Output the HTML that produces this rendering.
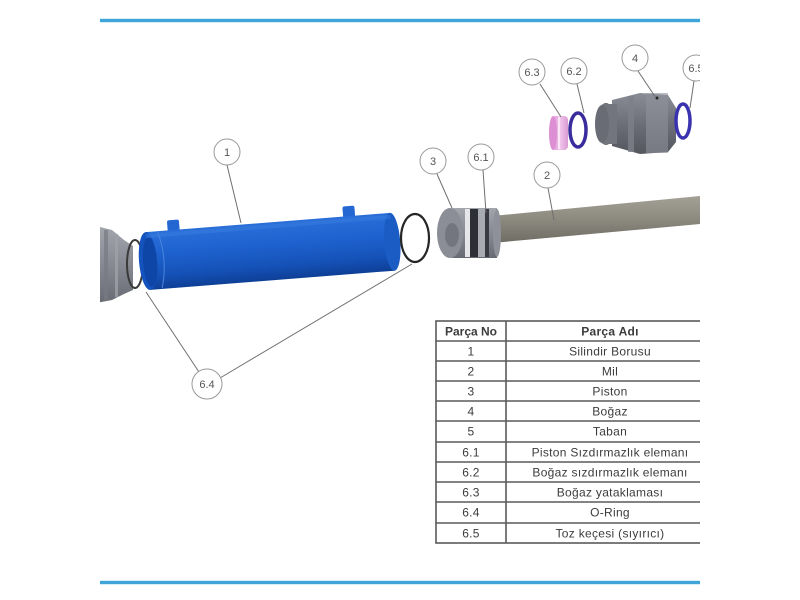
<!DOCTYPE html>
<html>
<head>
<meta charset="utf-8">
<style>
  html,body{margin:0;padding:0;background:#fff;}
  svg{display:block;}
  text{font-family:"Liberation Sans", sans-serif;}
</style>
</head>
<body>
<svg width="800" height="600" viewBox="0 0 800 600" xmlns="http://www.w3.org/2000/svg">
  <defs>
    <clipPath id="frame"><rect x="100" y="0" width="600" height="600"/></clipPath>
    <linearGradient id="blueG" x1="0" y1="0" x2="0" y2="1">
      <stop offset="0" stop-color="#2a6fd8"/>
      <stop offset="0.35" stop-color="#1f63d0"/>
      <stop offset="0.75" stop-color="#1552b8"/>
      <stop offset="1" stop-color="#0e3f96"/>
    </linearGradient>
    <linearGradient id="rodG" x1="0" y1="0" x2="0" y2="1">
      <stop offset="0" stop-color="#a3a096"/>
      <stop offset="0.5" stop-color="#8c897f"/>
      <stop offset="1" stop-color="#6f6c64"/>
    </linearGradient>
    <linearGradient id="grayG" x1="0" y1="0" x2="0" y2="1">
      <stop offset="0" stop-color="#a4a6ae"/>
      <stop offset="0.5" stop-color="#878993"/>
      <stop offset="1" stop-color="#686a74"/>
    </linearGradient>
    <linearGradient id="darkG" x1="0" y1="0" x2="0" y2="1">
      <stop offset="0" stop-color="#8a8c96"/>
      <stop offset="0.5" stop-color="#6c6e78"/>
      <stop offset="1" stop-color="#55575f"/>
    </linearGradient>
    <linearGradient id="pinkG" x1="0" y1="0" x2="1" y2="0">
      <stop offset="0" stop-color="#d98bd0"/>
      <stop offset="0.5" stop-color="#f2c6ec"/>
      <stop offset="1" stop-color="#d99ad2"/>
    </linearGradient>
  </defs>

  <!-- frame lines -->
  <rect x="100" y="18" width="600" height="5" fill="#d6eef9"/>
  <rect x="100" y="19" width="600" height="3" fill="#3fa4d8"/>
  <rect x="100" y="580" width="600" height="5" fill="#d6eef9"/>
  <rect x="100" y="581" width="600" height="3" fill="#3fa4d8"/>

  <g clip-path="url(#frame)">
    <!-- Part 5 base (left, clipped) -->
    <path d="M96,226 L112,230 L124,240 L133,246 L133,290 L124,294 L112,300 L96,303 Z" fill="url(#grayG)"/>
    <rect x="104" y="230" width="4" height="70" fill="#777983" opacity="0.7"/>
    <rect x="115" y="234" width="3" height="63" fill="#9fa1a9" opacity="0.8"/>
    <!-- O-ring left 6.4 -->
    <ellipse cx="135" cy="264" rx="8" ry="24" fill="none" stroke="#3a3a3a" stroke-width="2"/>

    <!-- Blue cylinder 1 -->
    <g transform="translate(148,261) rotate(-4.5)">
      <rect x="22" y="-39" width="12" height="12" rx="2" fill="#2467d2"/>
      <rect x="198" y="-39" width="12" height="12" rx="2" fill="#2467d2"/>
      <rect x="0" y="-29" width="245" height="58" fill="url(#blueG)"/>
      <ellipse cx="245" cy="0" rx="8" ry="29" fill="#1a5cc4"/>
      <ellipse cx="0" cy="0" rx="9" ry="29" fill="#1453bd"/>
      <ellipse cx="2" cy="1" rx="7" ry="25" fill="#0e46a8"/>
      <path d="M12,-28 Q20,0 12,28" fill="none" stroke="#4a86e0" stroke-width="1"/>
      <rect x="0" y="-27" width="245" height="4" fill="#3a7de0" opacity="0.5"/>
    </g>

    <!-- O-ring right 6.4 -->
    <ellipse cx="415" cy="238" rx="14" ry="24" fill="none" stroke="#262626" stroke-width="2.2"/>

    <!-- Rod 2 -->
    <path d="M492,216 L700,196 L700,224 L492,243 Z" fill="url(#rodG)"/>

    <!-- Piston 3 -->
    <rect x="452" y="208" width="45" height="50" fill="url(#grayG)"/>
    <rect x="465" y="209" width="5" height="48" fill="#e6e6ea"/>
    <rect x="470" y="209" width="8" height="48" fill="#2e2f35"/>
    <rect x="478" y="209" width="7" height="48" fill="#a9abb3"/>
    <rect x="485" y="209" width="4" height="48" fill="#3a3b42"/>
    <ellipse cx="497" cy="233" rx="4" ry="24" fill="#8f919a"/>
    <ellipse cx="450" cy="233" rx="13" ry="25" fill="#8b8d97"/>
    <ellipse cx="452" cy="235" rx="7" ry="12" fill="#74767f"/>

    <!-- 6.3 pink ring -->
    <rect x="552" y="116" width="16" height="34" rx="4" fill="url(#pinkG)"/>
    <ellipse cx="553" cy="133" rx="4" ry="17" fill="#dc8fd3"/>
    <rect x="558" y="117" width="2" height="32" fill="#fbe6f7"/>
    <!-- 6.2 blue ring -->
    <ellipse cx="578" cy="130" rx="8" ry="17" fill="none" stroke="#3a2c9c" stroke-width="3.5"/>

    <!-- Part 4 gland -->
    <path d="M612,100 L640,93 L668,95 L676,108 L676,142 L668,152 L640,154 L612,146 Z" fill="url(#darkG)"/>
    <rect x="628" y="96" width="6" height="56" fill="#7d7f89" opacity="0.8"/>
    <rect x="646" y="93" width="22" height="60" fill="#8f919b" opacity="0.6"/>
    <ellipse cx="606" cy="124" rx="10" ry="21" fill="#5d5f68"/>
    <rect x="603" y="104" width="14" height="40" fill="#72747e"/>
    <ellipse cx="602" cy="124" rx="7" ry="19" fill="#6a6c75"/>
    <circle cx="657" cy="98" r="1.5" fill="#222"/>
    <!-- 6.5 ring -->
    <ellipse cx="683" cy="121" rx="7" ry="17" fill="none" stroke="#3a33b0" stroke-width="3.5"/>

    <!-- Leaders -->
    <g stroke="#6f6f6f" stroke-width="1" fill="none">
      <line x1="227" y1="165" x2="241" y2="223"/>
      <line x1="437" y1="174" x2="452" y2="208"/>
      <line x1="483" y1="170" x2="486" y2="213"/>
      <line x1="548" y1="188" x2="554" y2="220"/>
      <line x1="540" y1="84" x2="561" y2="117"/>
      <line x1="577" y1="84" x2="584" y2="113"/>
      <line x1="638" y1="71" x2="656" y2="98"/>
      <line x1="694" y1="81" x2="690" y2="108"/>
      <line x1="199" y1="372" x2="146" y2="292"/>
      <line x1="220" y1="378" x2="412" y2="264"/>
    </g>

    <!-- Callout circles -->
    <g fill="#fff" stroke="#999" stroke-width="1">
      <circle cx="227" cy="152" r="13"/>
      <circle cx="433" cy="161" r="13"/>
      <circle cx="481" cy="157" r="13"/>
      <circle cx="547" cy="175" r="13"/>
      <circle cx="532" cy="72" r="13"/>
      <circle cx="574" cy="71" r="13"/>
      <circle cx="635" cy="58" r="13"/>
      <circle cx="696" cy="68" r="13"/>
      <circle cx="207" cy="384" r="15"/>
    </g>
    <g fill="#555" font-size="11" text-anchor="middle">
      <text x="227" y="156">1</text>
      <text x="433" y="165">3</text>
      <text x="481" y="161">6.1</text>
      <text x="547" y="179">2</text>
      <text x="532" y="76">6.3</text>
      <text x="574" y="75">6.2</text>
      <text x="635" y="62">4</text>
      <text x="696" y="72">6.5</text>
      <text x="207" y="388">6.4</text>
    </g>

    <!-- Table -->
    <g stroke="#5a5a5a" stroke-width="1.6" fill="none">
      <rect x="436" y="321" width="280" height="222"/>
      <line x1="506" y1="321" x2="506" y2="543"/>
      <line x1="436" y1="341" x2="716" y2="341"/>
      <line x1="436" y1="361" x2="716" y2="361"/>
      <line x1="436" y1="381" x2="716" y2="381"/>
      <line x1="436" y1="401" x2="716" y2="401"/>
      <line x1="436" y1="421" x2="716" y2="421"/>
      <line x1="436" y1="442" x2="716" y2="442"/>
      <line x1="436" y1="462" x2="716" y2="462"/>
      <line x1="436" y1="482" x2="716" y2="482"/>
      <line x1="436" y1="502" x2="716" y2="502"/>
      <line x1="436" y1="523" x2="716" y2="523"/>
    </g>
    <g fill="#3c3c3c" font-size="12" text-anchor="middle" letter-spacing="0.3">
      <text x="471" y="335.5" font-weight="bold" letter-spacing="0">Parça No</text>
      <text x="610" y="335.5" font-weight="bold">Parça Adı</text>
      <text x="471" y="355.5">1</text><text x="610" y="355.5">Silindir Borusu</text>
      <text x="471" y="375.5">2</text><text x="610" y="375.5">Mil</text>
      <text x="471" y="395.5">3</text><text x="610" y="395.5">Piston</text>
      <text x="471" y="415.5">4</text><text x="610" y="415.5">Boğaz</text>
      <text x="471" y="435.5">5</text><text x="610" y="435.5">Taban</text>
      <text x="471" y="456.5">6.1</text><text x="610" y="456.5">Piston Sızdırmazlık elemanı</text>
      <text x="471" y="476.5">6.2</text><text x="610" y="476.5">Boğaz sızdırmazlık elemanı</text>
      <text x="471" y="496.5">6.3</text><text x="610" y="496.5">Boğaz yataklaması</text>
      <text x="471" y="516.5">6.4</text><text x="610" y="516.5">O-Ring</text>
      <text x="471" y="537.5">6.5</text><text x="610" y="537.5">Toz keçesi (sıyırıcı)</text>
    </g>
  </g>
</svg>
</body>
</html>
